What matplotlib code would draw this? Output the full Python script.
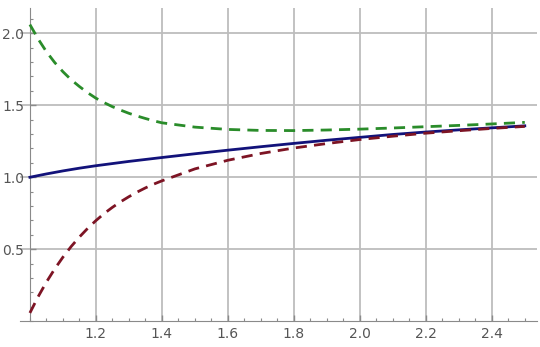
import matplotlib
matplotlib.use("Agg")
import matplotlib.pyplot as plt
from matplotlib.ticker import MultipleLocator

# values (finer steps where the curves bend)
x_fine = [1.0, 1.025, 1.05, 1.075, 1.1, 1.125, 1.15, 1.175, 1.2, 1.225, 1.25, 1.275,
          1.3, 1.325, 1.35, 1.375, 1.4]
red_fine = [0.058, 0.171, 0.272, 0.363, 0.445, 0.519, 0.585, 0.645, 0.699, 0.748,
            0.791, 0.830, 0.865, 0.897, 0.926, 0.952, 0.975]
green_fine = [2.060, 1.960, 1.872, 1.797, 1.733, 1.677, 1.630, 1.587, 1.549, 1.518,
              1.490, 1.466, 1.444, 1.425, 1.408, 1.392, 1.378]

x_rest = [1.5, 1.6, 1.7, 1.8, 1.9, 2.0, 2.1, 2.2, 2.3, 2.4, 2.5]
red_rest = [1.058, 1.118, 1.165, 1.203, 1.234, 1.262, 1.285, 1.306, 1.323, 1.339, 1.353]
green_rest = [1.348, 1.332, 1.325, 1.324, 1.328, 1.334, 1.342, 1.351, 1.360, 1.370, 1.381]

x_blue = [1.0, 1.05, 1.1, 1.15, 1.2, 1.3, 1.4, 1.5, 1.6, 1.7, 1.8, 1.9, 2.0, 2.1, 2.2, 2.3, 2.4, 2.5]
blue = [1.000, 1.023, 1.044, 1.063, 1.080, 1.110, 1.137, 1.163, 1.188, 1.212, 1.235, 1.257, 1.277,
        1.297, 1.314, 1.329, 1.343, 1.357]

x_ticks = [1.2, 1.4, 1.6, 1.8, 2.0, 2.2, 2.4]
y_ticks = [0.5, 1.0, 1.5, 2.0]

x_dash = x_fine + x_rest
red = red_fine + red_rest
green = green_fine + green_rest

fig = plt.figure(figsize=(5.4, 3.47), dpi=100)
ax = fig.add_axes([20 / 540, (347 - 321.3) / 347, 517 / 540, 313.3 / 347])

ax.set_xlim(0.97, 2.537)
ax.set_ylim(0, 2.175)

grid_col = "#bdbdbd"
for xv in x_ticks:
    ax.axvline(xv, color=grid_col, lw=1.3, zorder=1)
for yv in y_ticks:
    ax.axhline(yv, color=grid_col, lw=1.3, zorder=1)

ax.plot(x_blue, blue, color="#12127a", lw=2.0, zorder=3)
ax.plot(x_dash, red, color="#7d1424", lw=2.0, dashes=(4, 2.6), zorder=3)
ax.plot(x_dash, green, color="#2a8c2a", lw=2.0, dashes=(4, 2.6), zorder=3)

for s in ["top", "right"]:
    ax.spines[s].set_visible(False)
ax.spines["left"].set_position(("data", 1.0))
ax.spines["bottom"].set_position(("data", 0.0))
ax.spines["left"].set_color("#8a8a8a")
ax.spines["bottom"].set_color("#8a8a8a")

ax.set_xticks(x_ticks)
ax.set_xticklabels(["%.1f" % v for v in x_ticks])
ax.set_yticks(y_ticks)
ax.set_yticklabels(["%.1f" % v for v in y_ticks])
ax.xaxis.set_minor_locator(MultipleLocator(0.05))
ax.yaxis.set_minor_locator(MultipleLocator(0.1))

ax.tick_params(which="major", direction="in", length=4, width=1, color="#8a8a8a",
               labelsize=10, labelcolor="#555555")
ax.tick_params(which="minor", direction="in", length=2.5, width=0.8, color="#8a8a8a")
ax.tick_params(axis="x", pad=4)
ax.tick_params(axis="y", pad=4)

fig.savefig("out.png", dpi=100)
